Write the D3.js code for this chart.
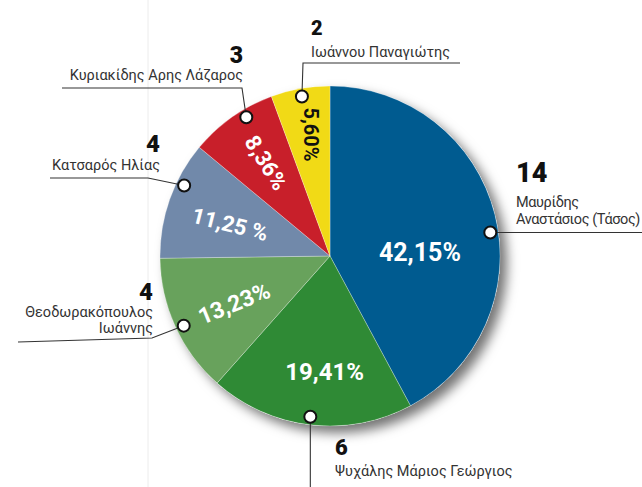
<!DOCTYPE html>
<html>
<head>
<meta charset="utf-8">
<script src="https://cdn.jsdelivr.net/npm/d3@7"></script>
<style>
  body { margin: 0; background: #fff; }
  svg { display: block; }
</style>
</head>
<body>
<div id="chart"></div>
<script>
// Data
var candidates = ["Μαυρίδης Αναστάσιος (Τάσος)", "Ψυχάλης Μάριος Γεώργιος", "Θεοδωρακόπουλος Ιωάννης",
  "Κατσαρός Ηλίας", "Κυριακίδης Αρης Λάζαρος", "Ιωάννου Παναγιώτης"];
var seats = [14, 6, 4, 4, 3, 2];
var shares = [42.15, 19.41, 13.23, 11.25, 8.36, 5.60];
var shareLabels = ["42,15%", "19,41%", "13,23%", "11,25 %", "8,36%", "5,60%"];
var colors = ["#005b90", "#2f8a35", "#68a25c", "#7189aa", "#c81f2a", "#f1da16"];

var width = 642, height = 487;
var cx = 330, cy = 256, R = 170;

// layout of annotation for each slice (same order as data)
var layout = [
  { dotNudge: 5.8, lab: { da: 12, r: 90, rot: 0, size: 25, fill: "#fff" },
    lines: ["Μαυρίδης", "Αναστάσιος (Τάσος)"], anchor: "start", tx: 516, numY: 182, nameY: [207, 224], numSize: 27,
    path: function(d) { return [d, [width, d[1]]]; } },
  { dotNudge: 0.3, lab: { da: -4, r: 116, rot: 0, size: 24, fill: "#fff" },
    lines: ["Ψυχάλης Μάριος Γεώργιος"], anchor: "start", tx: 335, numY: 455, nameY: [476], numSize: 22,
    path: function(d) { return [d, [d[0], height]]; } },
  { dotNudge: -0.9, lab: { da: -2, r: 107, rot: -22, size: 23, fill: "#fff" },
    lines: ["Θεοδωρακόπουλος", "Ιωάννης"], anchor: "end", tx: 153, numY: 300, nameY: [317, 333], numSize: 24,
    path: function(d) { return [d, [152, 338], [18, 342]]; } },
  { dotNudge: 6.3, lab: { da: -2, r: 105, rot: 14, size: 22, fill: "#fff" },
    lines: ["Κατσαρός Ηλίας"], anchor: "end", tx: 160, numY: 152, nameY: [170], numSize: 24,
    path: function(d) { return [d, [148, 178], [50, 178]]; } },
  { dotNudge: 4.1, lab: { da: 0.7, r: 113, rot: 58, size: 22, fill: "#fff" },
    lines: ["Κυριακίδης Αρης Λάζαρος"], anchor: "end", tx: 243, numY: 63, nameY: [80], numSize: 23,
    path: function(d) { return [d, [242, 88], [62, 88]]; } },
  { dotNudge: 0.1, lab: { da: 1.2, r: 123, rot: 90, size: 20, fill: "#111" },
    lines: ["Ιωάννου Παναγιώτης"], anchor: "start", tx: 311, numY: 35, nameY: [57], numSize: 20,
    path: function(d) { return [d, [303, 63], [460, 63]]; } }
];

var svg = d3.select("#chart").append("svg").attr("width", width).attr("height", height);

var defs = svg.append("defs");
var f = defs.append("filter").attr("id", "shadow").attr("x", "-20%").attr("y", "-20%").attr("width", "150%").attr("height", "150%");
f.append("feDropShadow").attr("dx", 7).attr("dy", 7).attr("stdDeviation", 6)
  .attr("flood-color", "#000").attr("flood-opacity", 0.55);

// faint guide line
svg.append("line").attr("x1", 148).attr("x2", 148).attr("y1", 0).attr("y2", height)
  .attr("stroke", "#ececec").attr("stroke-width", 1);

var pie = d3.pie().sort(null).value(function(d) { return d; });
var arcs = pie(shares);
var arc = d3.arc().innerRadius(0).outerRadius(R);

var g = svg.append("g").attr("transform", "translate(" + cx + "," + cy + ")");

g.append("circle").attr("r", R).attr("fill", "#fff").attr("filter", "url(#shadow)");

g.selectAll("path.slice").data(arcs).enter().append("path")
  .attr("class", "slice")
  .attr("d", arc)
  .attr("fill", function(d, i) { return colors[i]; })
  .attr("stroke", "rgba(255,255,255,0.35)")
  .attr("stroke-width", 0.8);

function polar(angDeg, r) {
  var a = angDeg * Math.PI / 180;
  return [r * Math.sin(a), -r * Math.cos(a)];
}
function midDeg(d) { return (d.startAngle + d.endAngle) / 2 * 180 / Math.PI; }

// percentage labels
g.selectAll("text.pct").data(arcs).enter().append("text")
  .attr("class", "pct")
  .attr("transform", function(d, i) {
    var L = layout[i].lab;
    var p = polar(midDeg(d) + L.da, L.r);
    return "translate(" + p[0] + "," + p[1] + ") rotate(" + L.rot + ")";
  })
  .attr("text-anchor", "middle")
  .attr("dominant-baseline", "central")
  .attr("font-family", "Roboto, 'Liberation Sans', sans-serif")
  .attr("font-weight", 700)
  .attr("font-size", function(d, i) { return layout[i].lab.size; })
  .attr("fill", function(d, i) { return layout[i].lab.fill; })
  .text(function(d, i) { return shareLabels[i]; });

// connectors and names
var ann = svg.append("g");
var line = d3.line();
arcs.forEach(function(d, i) {
  var L = layout[i];
  var p = polar(midDeg(d) + L.dotNudge, 162);
  var dot = [cx + p[0], cy + p[1]];
  ann.append("path").attr("d", line(L.path(dot)))
    .attr("fill", "none").attr("stroke", "#333").attr("stroke-width", 1.1);
  ann.append("circle").attr("cx", dot[0]).attr("cy", dot[1]).attr("r", 6)
    .attr("fill", "#fff").attr("stroke", "#111").attr("stroke-width", 2);
  ann.append("text")
    .attr("x", L.tx).attr("y", L.numY)
    .attr("text-anchor", L.anchor)
    .attr("font-family", "Roboto, 'Liberation Sans', sans-serif")
    .attr("font-weight", 900)
    .attr("font-size", L.numSize)
    .attr("fill", "#111")
    .text(seats[i]);
  L.lines.forEach(function(t, k) {
    ann.append("text")
      .attr("x", L.tx).attr("y", L.nameY[k])
      .attr("text-anchor", L.anchor)
      .attr("font-family", "Roboto, 'Liberation Sans', sans-serif")
      .attr("font-size", 14.5)
      .attr("letter-spacing", i === 0 ? -0.4 : 0)
      .attr("fill", "#333")
      .text(t);
  });
});
</script>
</body>
</html>
